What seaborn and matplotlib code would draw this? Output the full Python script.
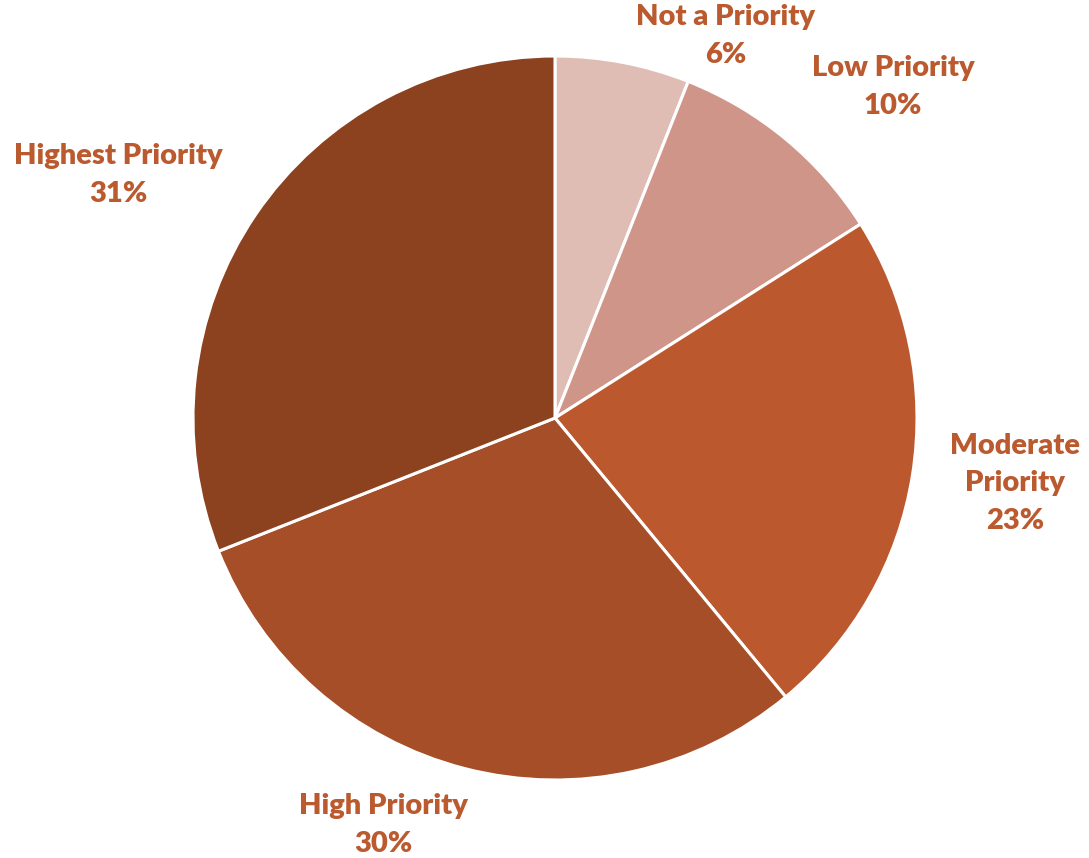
"""
Pie chart: priority levels
"""

import matplotlib
matplotlib.use('Agg')
import matplotlib.pyplot as plt
import seaborn as sns

categories = ['Not a Priority', 'Low Priority', 'Moderate Priority', 'High Priority', 'Highest Priority']
label_texts = ['Not a Priority', 'Low Priority', 'Moderate\nPriority', 'High Priority', 'Highest Priority']
shares = [6, 10, 23, 30, 31]
slice_colors = ['#DFBDB5', '#D09589', '#BC582D', '#A64E27', '#8C411F']
label_color = '#BA5A2E'

# label positions in units of the pie radius
label_pos = [(0.472, 1.055), (0.934, 0.914), (1.271, -0.18), (-0.475, -1.124), (-1.207, 0.671)]

sns.set_theme(style='white')
plt.rcParams['font.family'] = ['Lato', 'DejaVu Sans']

W, H = 1089, 858
cx, cy, r = 555, 418, 362
fig = plt.figure(figsize=(W / 100, H / 100), dpi=100)
ax = fig.add_axes([(cx - r) / W, (H - cy - r) / H, 2 * r / W, 2 * r / H])

ax.pie(shares, colors=slice_colors, startangle=90, counterclock=False,
       wedgeprops={'edgecolor': 'white', 'linewidth': 2.2}, radius=1)
ax.set_xlim(-1, 1)
ax.set_ylim(-1, 1)
ax.set_aspect('equal')

for txt, val, (x, y) in zip(label_texts, shares, label_pos):
    ax.text(x, y, f'{txt}\n{val}%', ha='center', va='center', color=label_color,
            fontsize=21, fontweight='heavy', linespacing=1.55, clip_on=False)

ax.axis('off')
fig.savefig('out.png', dpi=100)
